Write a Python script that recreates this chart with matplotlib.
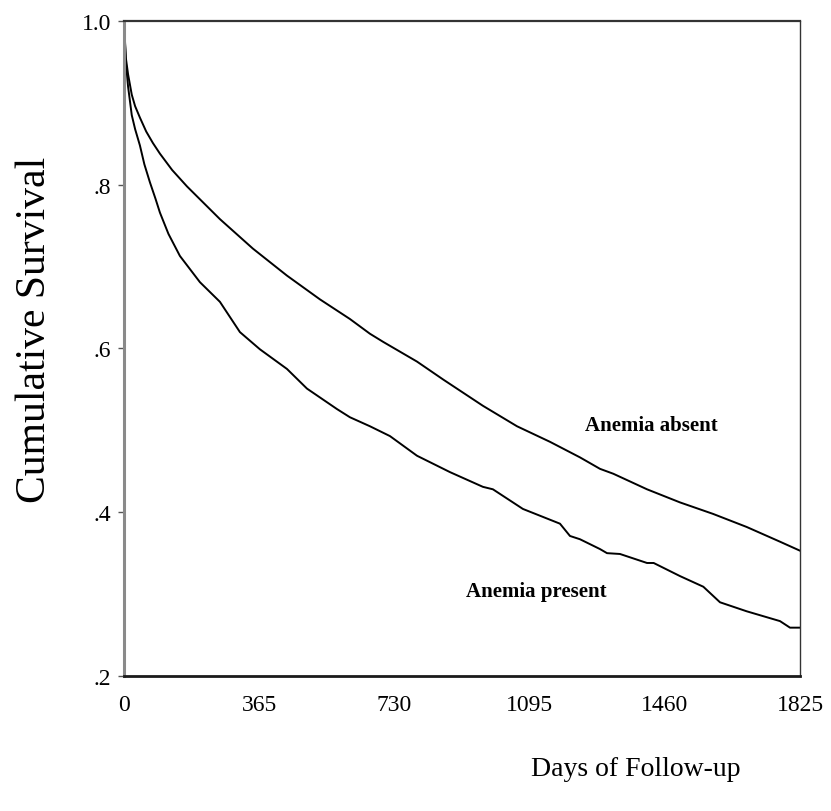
import numpy as np
import matplotlib
matplotlib.use("Agg")
import matplotlib.pyplot as plt

# Kaplan-Meier curves
dias_ausente = [0, 5, 11, 21, 30, 43, 60, 78, 97, 130, 170, 259, 348, 440, 529, 610, 664,
                700, 791, 862, 969, 1061, 1150, 1231, 1285, 1321, 1412, 1501, 1590, 1681,
                1771, 1825]
surv_ausente = [1.0, 0.955, 0.935, 0.91, 0.896, 0.882, 0.865, 0.851, 0.838, 0.818, 0.798,
                0.758, 0.722, 0.689, 0.660, 0.636, 0.618, 0.608, 0.584, 0.562, 0.530,
                0.505, 0.486, 0.467, 0.453, 0.447, 0.428, 0.412, 0.398, 0.382, 0.364,
                0.353]

dias_presente = [0, 5, 11, 21, 30, 43, 55, 70, 85, 97, 120, 151, 205, 259, 313, 367, 440,
                 494, 575, 610, 664, 718, 791, 880, 969, 996, 1077, 1177, 1204, 1231, 1285,
                 1304, 1339, 1412, 1430, 1501, 1564, 1609, 1681, 1771, 1798, 1825]
surv_presente = [1.0, 0.95, 0.92, 0.885, 0.868, 0.848, 0.825, 0.803, 0.783, 0.766, 0.740,
                 0.713, 0.681, 0.657, 0.620, 0.599, 0.575, 0.551, 0.526, 0.516, 0.505,
                 0.493, 0.469, 0.449, 0.431, 0.428, 0.404, 0.386, 0.371, 0.367, 0.355,
                 0.350, 0.349, 0.338, 0.338, 0.322, 0.309, 0.290, 0.279, 0.267, 0.259,
                 0.259]

xticks = [0, 365, 730, 1095, 1460, 1825]
yticks = [0.2, 0.4, 0.6, 0.8, 1.0]
yticklabels = [".2", ".4", ".6", ".8", "1.0"]

plt.rcParams["font.family"] = ["Liberation Serif", "DejaVu Serif"]

fig = plt.figure(figsize=(8.31, 8.12), dpi=100)
ax = fig.add_axes([0.1492, 0.1663, 0.8135, 0.8066])

ax.plot(dias_ausente, surv_ausente, color="black", lw=1.4)
ax.plot(dias_presente, surv_presente, color="black", lw=1.4)

ax.set_xlim(0, 1825)
ax.set_ylim(0.2, 1.0)
ax.set_xticks(xticks)
ax.set_xticklabels([str(t) for t in xticks])
ax.set_yticks(yticks)
ax.set_yticklabels(yticklabels)
ax.tick_params(axis="x", length=0, pad=13, labelsize=17)
ax.tick_params(axis="y", length=4, width=1, pad=5, labelsize=17, color="#555555")

ax.spines["left"].set_color("#8a8a8a")
ax.spines["left"].set_linewidth(2.2)
ax.spines["bottom"].set_color("#1a1a1a")
ax.spines["bottom"].set_linewidth(2.0)
ax.spines["top"].set_color("#333333")
ax.spines["top"].set_linewidth(1.6)
ax.spines["right"].set_color("#333333")
ax.spines["right"].set_linewidth(1.0)

ax.text(1423, 0.507, "Anemia absent", fontsize=15, fontweight="bold",
        ha="center", va="center")
ax.text(1112, 0.304, "Anemia present", fontsize=15, fontweight="bold",
        ha="center", va="center")

fig.text(35 / 831, 1 - 330 / 812, "Cumulative Survival", rotation=90,
         fontsize=30, ha="center", va="center")
fig.text(636 / 831, 1 - 770 / 812, "Days of Follow-up", fontsize=20,
         ha="center", va="center")

fig.savefig("out.png", dpi=100)
